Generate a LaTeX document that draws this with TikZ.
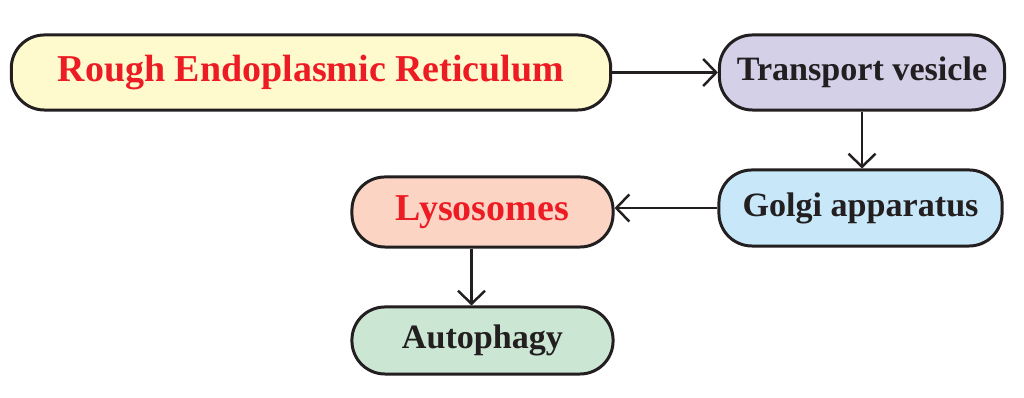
\documentclass[tikz,border=0pt]{standalone}
\usepackage{fontspec}
\setmainfont{Liberation Serif}
\usetikzlibrary{arrows.meta, positioning, calc}
\definecolor{roughbg}{RGB}{255, 250, 205}
\definecolor{vesiclebg}{RGB}{212, 208, 232}
\definecolor{golgibg}{RGB}{200, 232, 250}
\definecolor{lysobg}{RGB}{251, 212, 196}
\definecolor{autobg}{RGB}{204, 230, 212}
\definecolor{organred}{RGB}{237, 28, 36}
\definecolor{inkdark}{RGB}{35, 31, 32}

\begin{document}
\begin{tikzpicture}[x=0.01cm, y=-0.01cm,
    >={Straight Barb[length=1.3mm, width=2.7mm]}]
  \tikzset{
    organelle/.style={draw=inkdark, line width=0.85pt, rounded corners=0.33cm,
      inner sep=0pt, text=inkdark,
      font=\bfseries\fontsize{9.7pt}{11pt}\selectfont},
    redlabel/.style={text=organred,
      font=\bfseries\fontsize{10.8pt}{12pt}\selectfont},
    flow/.style={->, draw=inkdark, line width=0.7pt}
  }
  \useasboundingbox (0,0) rectangle (1024,398);

  % top row
  \node[organelle, redlabel, fill=roughbg, minimum width=5.99cm,
        minimum height=0.75cm] (rer) at (311, 72.5)
    {Rough Endoplasmic Reticulum};
  \node[organelle, fill=vesiclebg, minimum width=2.85cm,
        minimum height=0.75cm] (vesicle) at (862, 72.5)
    {Transport vesicle};

  % middle row
  \node[organelle, fill=golgibg, minimum width=2.83cm,
        minimum height=0.76cm] (golgi) at (860.5, 208)
    {Golgi apparatus};
  \node[organelle, redlabel, fill=lysobg, minimum width=2.61cm,
        minimum height=0.70cm] (lyso) at (482.5, 212)
    {Lysosomes};

  % bottom row
  \node[organelle, fill=autobg, minimum width=2.61cm,
        minimum height=0.67cm] (auto) at (482.5, 340.5)
    {Autophagy};

  % pathway arrows
  \draw[flow] (rer.east) -- (vesicle.west);
  \draw[flow] (vesicle.south) -- (vesicle.south |- golgi.north);
  \draw[flow] (golgi.west) -- (golgi.west -| lyso.east);
  \draw[flow] ([xshift=-0.11cm]lyso.south)
    -- ([xshift=-0.11cm]lyso.south |- auto.north);
\end{tikzpicture}
\end{document}
